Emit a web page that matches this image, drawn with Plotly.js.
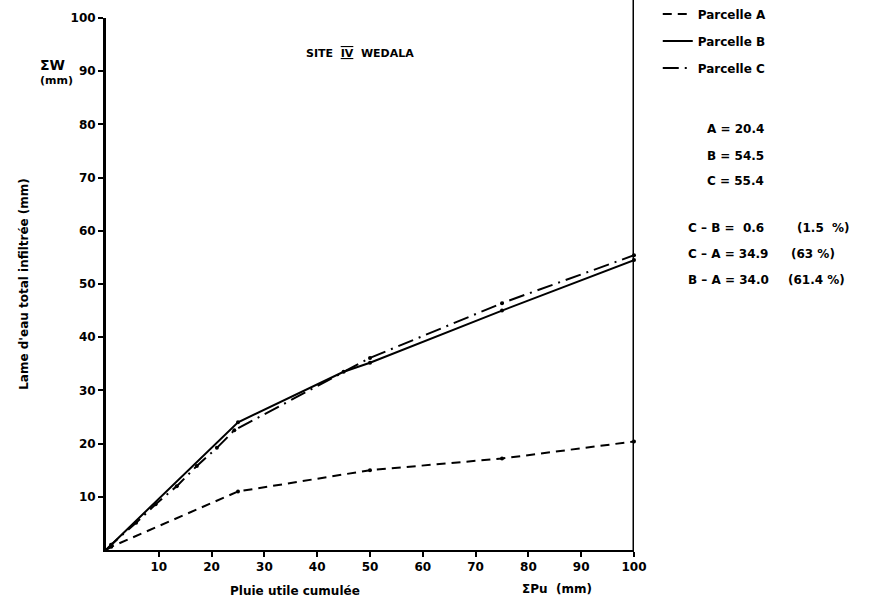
<!DOCTYPE html>
<html><head><meta charset="utf-8">
<script src="https://cdn.plot.ly/plotly-3.0.1.min.js"></script>
<style>body{margin:0;background:#fff}</style>
</head><body>
<div id="chart" style="width:880px;height:611px"></div>
<script>
// Data (cumulative effective rain ΣPu vs cumulative infiltration ΣW)
const seriesNames = ["Parcelle A", "Parcelle B", "Parcelle C"];
const xA = [0, 1, 25, 50, 75, 100];
const yA = [0, 0.6, 11, 15, 17.2, 20.4];
const xB = [0, 1, 25, 45, 50, 75, 100];
const yB = [0, 1, 24, 33.5, 35.2, 45, 54.5];
const xC = [0, 1, 5.7, 9.4, 13.4, 17.2, 21, 24.3, 50, 75, 100];
const yC = [0, 1, 5.1, 8.6, 12, 15.8, 19.2, 22.5, 36.1, 46.4, 55.4];
const xTicks = [10, 20, 30, 40, 50, 60, 70, 80, 90, 100];
const yTicks = [10, 20, 30, 40, 50, 60, 70, 80, 90, 100];
const totals = ["A = 20.4", "B = 54.5", "C = 55.4"];
const diffs = ["C – B =  0.6", "C – A = 34.9", "B – A = 34.0"];
const diffPct = ["(1.5  %)", "(63 %)", "(61.4 %)"];

const F = "DejaVu Sans, Verdana, sans-serif";
const dashes = ["9px,6px", "solid", "16px,6px,2px,6px"];
const xs = [xA, xB, xC], ys = [yA, yB, yC];
const traces = [];
for (let i = 0; i < 3; i++) {
  traces.push({x: xs[i], y: ys[i], mode: "lines+markers", name: seriesNames[i],
    showlegend: false, line: {color: "#000", width: 2, dash: dashes[i]},
    marker: {color: "#000", size: 4}, cliponaxis: false});
}
for (let i = 0; i < 3; i++) {
  traces.push({x: [null], y: [null], mode: "lines", name: seriesNames[i],
    legendgroup: "g" + i, showlegend: true,
    line: {color: "#000", width: 2, dash: dashes[i]}});
}

const ann = [];
const bold = s => "<b>" + s + "</b>";
const tf = (s) => ({family: F, size: s, color: "#000", weight: "bold"});
ann.push({xref: "paper", yref: "paper", x: 0.481, y: 0.949, showarrow: false,
  text: bold("SITE  <span style='text-decoration:underline overline'>IV</span>  WEDALA"),
  font: tf(11)});
ann.push({xref: "paper", yref: "paper", x: -0.129, y: 0.93, showarrow: false,
  text: bold("ΣW"), font: tf(14)});
ann.push({xref: "paper", yref: "paper", x: -0.129, y: 0.899, showarrow: false,
  text: bold("(mm)"), font: tf(11)});
ann.push({xref: "paper", yref: "paper", x: 0.232, y: -0.094, showarrow: false,
  text: bold("Pluie utile cumulée"), font: tf(12)});
ann.push({xref: "paper", yref: "paper", x: 0.925, y: -0.09, showarrow: false,
  text: bold("ΣPu  (mm)"), font: tf(12)});
const yT = [0.808, 0.7575, 0.7105];
totals.forEach((t, i) => ann.push({xref: "paper", yref: "paper", x: 1.134, y: yT[i],
  xanchor: "left", showarrow: false, text: bold(t), font: tf(12)}));
const yD = [0.605, 0.556, 0.5075];
diffs.forEach((t, i) => ann.push({xref: "paper", yref: "paper", x: 1.098, y: yD[i],
  xanchor: "left", showarrow: false, text: bold(t), font: tf(12)}));
const xP = [1.305, 1.293, 1.287];
diffPct.forEach((t, i) => ann.push({xref: "paper", yref: "paper", x: xP[i], y: yD[i],
  xanchor: "left", showarrow: false, text: bold(t), font: tf(12)}));

const layout = {
  width: 880, height: 611,
  margin: {l: 106, r: 246, t: 18, b: 61, autoexpand: false},
  paper_bgcolor: "#fff", plot_bgcolor: "#fff",
  font: {family: F, color: "#000"},
  showlegend: true,
  legend: {x: 1.045, y: 1.035, xanchor: "left", yanchor: "top", traceorder: "grouped",
    tracegroupgap: 8, font: tf(12), bgcolor: "rgba(0,0,0,0)"},
  xaxis: {range: [0, 100], tickvals: xTicks, ticktext: xTicks.map(v => bold(v)),
    ticks: "outside", ticklen: 5, tickwidth: 2, tickcolor: "#000",
    showline: true, linewidth: 2, linecolor: "#000", showgrid: false, zeroline: false,
    tickfont: tf(12)},
  yaxis: {range: [0, 100], tickvals: yTicks, ticktext: yTicks.map(v => bold(v)),
    ticks: "outside", ticklen: 5, tickwidth: 2, tickcolor: "#000",
    showline: true, linewidth: 3, linecolor: "#000", showgrid: false, zeroline: false,
    tickfont: tf(12),
    title: {text: bold("Lame d'eau total infiltrée (mm)"), standoff: 40, font: tf(12)}},
  shapes: [{type: "line", xref: "x", yref: "paper", x0: 100, x1: 100, y0: 0, y1: 1.035,
    line: {color: "#000", width: 3}}],
  annotations: ann
};
Plotly.newPlot("chart", traces, layout, {displayModeBar: false});
</script>
</body></html>
